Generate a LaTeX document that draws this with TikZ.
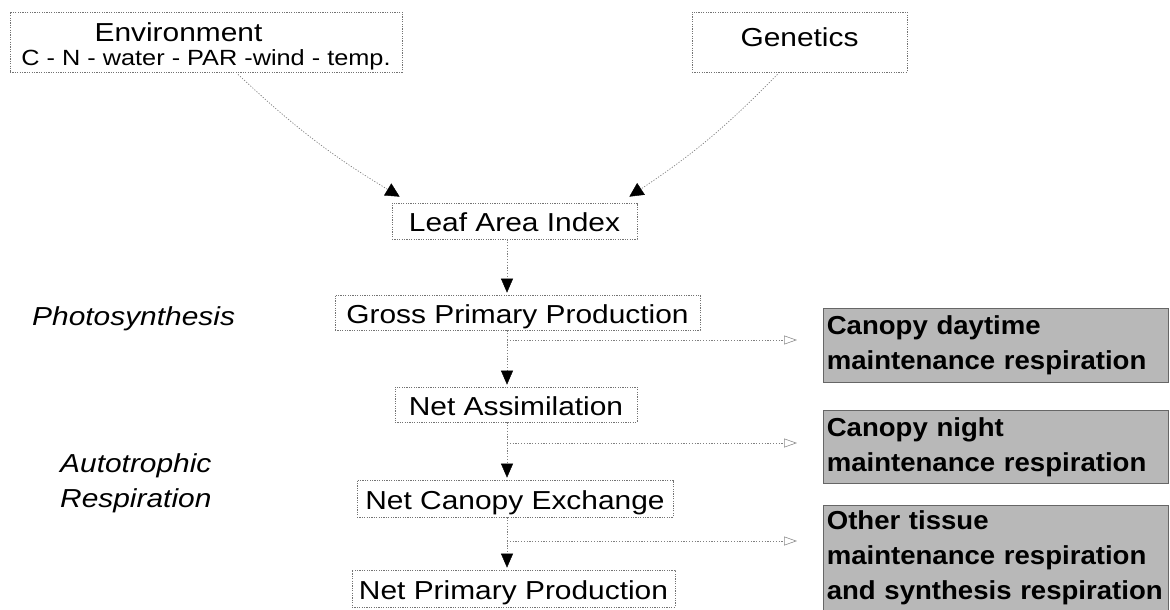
\documentclass[tikz,border=0pt]{standalone}
\usepackage{fontspec}
\setmainfont{Liberation Sans}[FakeStretch=1.15]
\newfontfamily\grayfont{Liberation Sans}[FakeStretch=1.06]
\usetikzlibrary{arrows.meta,calc}
\begin{document}
\begin{tikzpicture}[x=1pt,y=-1pt,
  box/.style={draw=black!55, dash pattern=on 1.2pt off 1.2pt, line width=0.7pt, inner sep=0pt,
    text height=24pt, text depth=3pt, font=\fontsize{26}{30}\selectfont},
  resp/.style={draw=black!60, fill=black!28, line width=0.6pt, inner sep=0pt, anchor=north west,
    minimum width=345, text width=338, align=left,
    execute at begin node={\hyphenpenalty=10000 },
    font=\grayfont\bfseries\fontsize{26}{35}\selectfont},
  lbl/.style={inner sep=0pt, font=\itshape\fontsize{26}{35}\selectfont, align=left},
  conn/.style={draw=black!50, dash pattern=on 1.2pt off 1.6pt, line width=0.7pt},
  down/.style={conn, shorten >=2pt, -{Triangle[width=12pt,length=14pt,color=black,fill=black,line width=0.4pt]}},
  curv/.style={conn, -{Triangle[width=14pt,length=14pt,color=black,fill=black,line width=0.4pt]}},
  side/.style={conn, shorten >=26pt, -{Triangle[open,width=9pt,length=13pt,color=black!45,line width=0.6pt]}}
]
\useasboundingbox (0,0) rectangle (1170,610);

% top boxes
\node[box, minimum width=392, minimum height=60, align=center, text height=, text depth=]
  (env) at (206,42) {\rule{0pt}{28pt}Environment\hspace*{55pt}\\[-6pt]
  \fontsize{22}{23}\selectfont C - N - water - PAR -wind - temp.};
\node[box, minimum width=215, minimum height=60, text height=19pt, text depth=10pt]
  (gen) at (799.5,42) {Genetics};

% main chain
\node[box, minimum width=245, minimum height=36] (lai) at (514.5,221) {Leaf Area Index};
\node[box, minimum width=365, minimum height=35] (gpp) at (517.5,312.5) {Gross Primary Production};
\node[box, minimum width=242, minimum height=35] (na)  at (516,404.5) {Net Assimilation};
\node[box, minimum width=316, minimum height=37] (nce) at (515,498.5) {Net Canopy Exchange};
\node[box, minimum width=323, minimum height=37] (npp) at (513.5,588.5) {Net Primary Production};

% left labels
\node[lbl, anchor=base west] (photo) at (32,325) {Photosynthesis};
\node[lbl, anchor=west] (auto) at (60,483) {Autotrophic\\Respiration};

% respiration boxes
\node[resp, minimum height=74] (r1) at (823,308) {Canopy daytime\\maintenance respiration};
\node[resp, minimum height=73] (r2) at (823,410) {Canopy night\\maintenance respiration};
\node[resp, minimum height=105] (r3) at (823,505) {Other tissue\\maintenance respiration\\and synthesis respiration};

% connectors
\coordinate (ax) at (507,0);
\coordinate (es) at ($(env.south)+(32,2)$);
\coordinate (gs) at ($(gen.south)+(-22,2)$);
\coordinate (le) at ($(lai.north west)+(8,-6)$);
\coordinate (re) at ($(lai.north east)+(-8,-6)$);
\draw[curv] (es) to[bend right=6] (le);
\draw[curv] (gs) to[bend left=6] (re);

\draw[down] (lai.south -| ax) -- (gpp.north -| ax);
\draw[down] (gpp.south -| ax) -- (na.north -| ax);
\draw[down] (na.south -| ax) -- (nce.north -| ax);
\draw[down] (nce.south -| ax) -- (npp.north -| ax);

\coordinate (b1) at (507,340);
\coordinate (b2) at (507,443);
\coordinate (b3) at (507,541);
\draw[side] (b1) -- (b1 -| r1.west);
\draw[side] (b2) -- (b2 -| r2.west);
\draw[side] (b3) -- (b3 -| r3.west);
\end{tikzpicture}
\end{document}
